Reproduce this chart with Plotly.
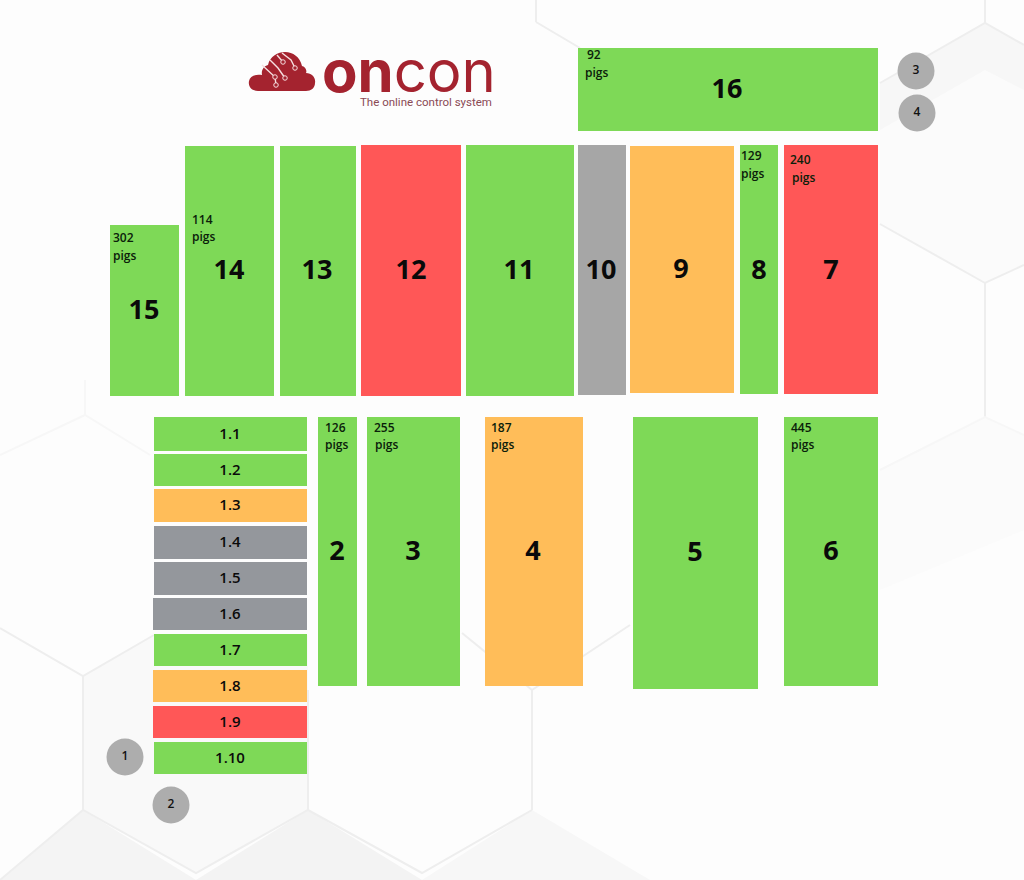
import plotly.graph_objects as go

GREEN = "#7ed957"; RED = "#ff5757"; ORANGE = "#ffbd59"; GREY = "#a6a6a6"; SLATE = "#94979c"
LOGO = "#a4232f"

# Pens: label, left, right, top, bottom, status colour
pen_names = ["16","15","14","13","12","11","10","9","8","7","2","3","4","5","6",
             "1.1","1.2","1.3","1.4","1.5","1.6","1.7","1.8","1.9","1.10"]
pen_left = [578,110,185,280,361,466,578,630,740,784,318,367,485,633,784,
            154,154,154,154,154,153,154,153,153,154]
pen_right = [878,179,274,356,461,574,626,734,778,878,357,460,583,758,878,
             307,307,307,307,307,307,307,307,307,307]
pen_top = [48,225,146,146,145,145,145,146,145,145,417,417,417,417,417,
           417,454,489,526,562,598,634,670,706,742]
pen_bottom = [131,396,396,396,396,396,395,393,394,394,686,686,686,689,686,
              451,486,522,559,595,630,666,702,738,774]
pen_colors = [GREEN,GREEN,GREEN,GREEN,RED,GREEN,GREY,ORANGE,GREEN,RED,GREEN,GREEN,ORANGE,GREEN,GREEN,
              GREEN,GREEN,ORANGE,SLATE,SLATE,SLATE,GREEN,ORANGE,RED,GREEN]
big_label_x = [727,144,229,317,411,519,601,681,759,831,337,413,533,695,831]
big_label_y = [91.5,312.5,272.5,272.5,272.5,272.5,272.5,271.5,272.5,272.5,553.5,553.5,553.5,554.5,553.5]

# Pig counts
pig_text = ["92","302","114","129","240","126","255","187","445"]
pig_num_x = [587,113,192,741,790,325,374,491,791]
pig_word_x = [585,113,192,741,792,325,375,491,791]
pig_y = [63.5,246.5,228,164.5,168.5,436,436,436,436]

# Numbered grey markers
dot_text = ["1","2","3","4"]
dot_x = [125,171,916,917]
dot_y = [757,805,71,113]

# Faint hexagon background
hex_fills = [
    ([(83,676),(154,635),(308,635),(308,810),(196,873),(83,810)], "#f9f9f9"),
    ([(880,83),(985,23),(1024,45),(1024,265),(985,283),(880,224)], "#fbfbfb"),
    ([(880,83),(985,23),(1024,45),(1024,90),(985,70),(880,130)], "#f7f7f7"),
    ([(0,880),(83,810),(196,880)], "#f4f4f4"),
    ([(196,880),(308,810),(422,880)], "#f3f3f3"),
    ([(422,880),(532,810),(650,880)], "#f7f7f7"),
    ([(880,470),(985,417),(1024,435),(1024,530),(880,590)], "#fbfbfb"),
]
hex_segments = [
    [(880,83),(985,23),(1024,45)],[(985,0),(985,23)],
    [(880,224),(985,283),(1024,265)],[(985,283),(985,417)],
    [(536,22),(580,48)],[(536,0),(536,22)],
    [(0,628),(83,676),(154,635)],[(83,676),(83,810)],
    [(0,880),(83,810),(196,873),(308,810),(422,873),(532,810)],
    [(308,810),(308,690)],[(532,810),(532,690)],
    [(532,690),(462,633)],[(532,690),(630,625)],
]
faint_segments = [
    [(880,470),(985,417),(1024,435)],
    [(0,455),(85,415),(150,455)],[(85,380),(85,415)],
]

# Logo circuit traces on the cloud
circuit_lines = [
    [(262,65),(275,77),(276,85)],
    [(270,60),(278,68),(285,78)],
    [(277,55),(283,62)],
    [(282,53),(291,60),(295,68)],
]
circuit_dots_x = [275,276,285,283,295]
circuit_dots_y = [77,85,78,62,68]
cloud = ("M 258 91 C 251 91 248 86 249 81 C 250 76 255 74 262 75 C 261 70 264 66 268 65 "
         "C 270 56 278 52 285 52 C 293 52 300 57 302 66 C 306 67 307 71 306 73 "
         "C 312 73 316 78 315 83 C 315 88 311 91 306 91 Z")


def poly(points, close=False):
    return "M " + " L ".join(f"{x} {y}" for x, y in points) + (" Z" if close else "")


shapes = []
for pts, col in hex_fills:
    shapes.append(dict(type="path", path=poly(pts, True), xref="x", yref="y",
                       fillcolor=col, line=dict(width=0), layer="below"))
for seg in hex_segments:
    shapes.append(dict(type="path", path=poly(seg), xref="x", yref="y",
                       line=dict(color="#eeeeee", width=2), layer="below"))
for seg in faint_segments:
    shapes.append(dict(type="path", path=poly(seg), xref="x", yref="y",
                       line=dict(color="#f7f7f7", width=2), layer="below"))
shapes.append(dict(type="path", path=cloud, xref="x", yref="y", fillcolor=LOGO,
                   line=dict(width=0), layer="below"))

fig = go.Figure()
fig.add_trace(go.Bar(
    x=[(a+b)/2 for a,b in zip(pen_left,pen_right)],
    y=[b-t for t,b in zip(pen_top,pen_bottom)],
    base=pen_top,
    width=[b-a for a,b in zip(pen_left,pen_right)],
    marker=dict(color=pen_colors, line=dict(width=0)),
    showlegend=False, hovertext=pen_names, hoverinfo="text"))

# Big pen numbers
fig.add_trace(go.Scatter(x=big_label_x, y=big_label_y, mode="text", text=pen_names[:15],
    textfont=dict(family="Open Sans", size=27, color="#0a0a0a", weight=700),
    showlegend=False, hoverinfo="skip"))
# 1.x labels
sub_names = pen_names[15:]
fig.add_trace(go.Scatter(x=[230]*10,
    y=[(t+b)/2+1 for t,b in zip(pen_top[15:],pen_bottom[15:])], mode="text", text=sub_names,
    textfont=dict(family="Open Sans", size=15, color="#0a0a0a", weight=600),
    showlegend=False, hoverinfo="skip"))
# Numbered markers
fig.add_trace(go.Scatter(x=dot_x, y=dot_y, mode="markers+text", text=dot_text,
    marker=dict(size=37, color="#adadad", line=dict(width=0)),
    textposition="middle center",
    textfont=dict(family="Open Sans", size=12, color="#111111", weight=600),
    showlegend=False, hoverinfo="skip"))
# Logo circuit
for seg in circuit_lines:
    fig.add_trace(go.Scatter(x=[p[0] for p in seg], y=[p[1] for p in seg], mode="lines",
        line=dict(color="#f6dfe0", width=1.4), showlegend=False, hoverinfo="skip"))
fig.add_trace(go.Scatter(x=circuit_dots_x, y=circuit_dots_y, mode="markers",
    marker=dict(size=4.5, color=LOGO, line=dict(color="#f6dfe0", width=1)),
    showlegend=False, hoverinfo="skip"))

annotations = []
for t, xn, xw, y in zip(pig_text, pig_num_x, pig_word_x, pig_y):
    for s, x, yy in ((t, xn, y-8.75), ("pigs", xw, y+8.75)):
        annotations.append(dict(x=x, y=yy, xref="x", yref="y", text=s, showarrow=False,
            xanchor="left", yanchor="middle", xshift=-2,
            font=dict(family="Open Sans", size=12, color="#0a200a", weight=600)))
# Logo wordmark
annotations.append(dict(x=320, y=70.5, xref="x", yref="y", text="<b>on</b>con", showarrow=False,
    xanchor="left", yanchor="middle", font=dict(family="Inter", size=58, color=LOGO)))
annotations.append(dict(x=358, y=102, xref="x", yref="y", text="The online control system", showarrow=False,
    xanchor="left", yanchor="middle", font=dict(family="Roboto", size=11.5, color="#8a4a55")))

fig.update_layout(
    width=1024, height=880, margin=dict(l=0, r=0, t=0, b=0),
    paper_bgcolor="#fdfdfd", plot_bgcolor="rgba(0,0,0,0)", bargap=0,
    xaxis=dict(range=[0,1024], visible=False, fixedrange=True),
    yaxis=dict(range=[880,0], visible=False, fixedrange=True),
    annotations=annotations, shapes=shapes,
)
fig.write_html("out.html", config=dict(displayModeBar=False),
               post_script="document.body.style.margin='0';document.body.style.overflow='hidden';")
